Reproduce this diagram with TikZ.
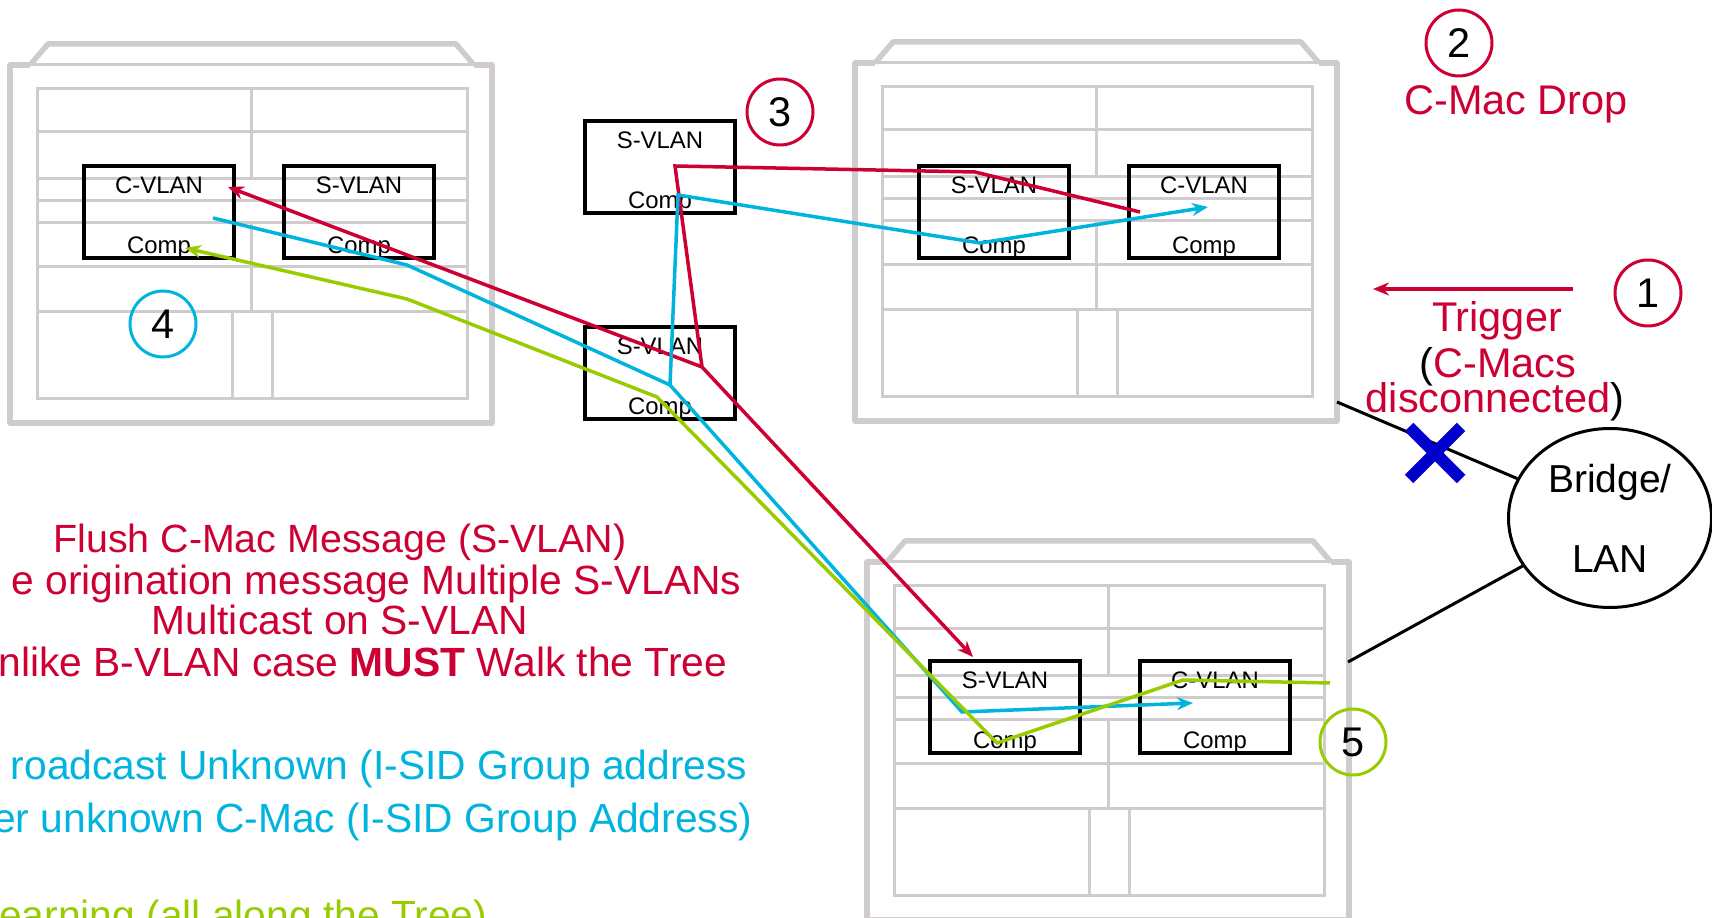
\documentclass[tikz,border=0pt]{standalone}
\usepackage{fontspec}
\setmainfont{Liberation Sans}
\usetikzlibrary{arrows.meta,shapes.geometric}
\definecolor{flush}{RGB}{204,0,51}
\definecolor{bcast}{RGB}{0,180,222}
\definecolor{learn}{RGB}{153,204,0}
\definecolor{frame}{RGB}{208,204,206}
\definecolor{cross}{RGB}{0,0,204}
\newcommand{\cmp}[1]{\rule{0pt}{7.8pt}#1\\Comp}

\begin{document}
\begin{tikzpicture}[x=0.1mm,y=-0.1mm,
    >={Stealth[length=1.6mm,width=1.3mm]},
    shelf/.style={draw=frame,line width=0.3mm},
    case/.style={draw=frame,line width=0.55mm,line join=round},
    comp/.style={draw,line width=0.4mm,minimum width=15mm,minimum height=9mm,inner sep=0pt,align=center,
      font=\fontsize{6.8}{17}\selectfont},
    num/.style={draw,circle,line width=0.3mm,minimum size=6.6mm,inner sep=0pt,font=\fontsize{11.8}{12}\selectfont},
    flow/.style={line width=0.35mm},
    txt/.style={inner sep=0pt,font=\fontsize{11.6}{12}\selectfont},
    side/.style={inner sep=0pt,font=\fontsize{11.8}{12}\selectfont}]
  \clip (0,0) rectangle (1712,918);

  \foreach \px/\py in {10/65,855/63,867/562}{
    \begin{scope}[shift={(\px,\py)}]
      \draw[case] (20,0) -- (0,0) -- (0,358) -- (482,358) -- (482,0) -- (464,0);
      \draw[case] (20,0) -- (38,-21) -- (446,-21) -- (464,0);
      \draw[shelf] (20,0) -- (464,0);
      \draw[shelf] (27,24) rectangle (457,334);
      \foreach \hy in {67,114,136,158,202,247} \draw[shelf] (27,\hy) -- (457,\hy);
      \draw[shelf] (241,24) -- (241,114) (241,158) -- (241,247) (222,247) -- (222,334) (262,247) -- (262,334);
    \end{scope}}

  \node[comp] (C1) at (159,212) {\cmp{C-VLAN}};
  \node[comp] (S1) at (359,212) {\cmp{S-VLAN}};
  \node[comp] (S2) at (660,167) {\cmp{S-VLAN}};
  \node[comp] (S3) at (660,373) {\cmp{S-VLAN}};
  \node[comp] (S4) at (994,212) {\cmp{S-VLAN}};
  \node[comp] (C4) at (1204,212) {\cmp{C-VLAN}};
  \node[comp] (S5) at (1005,707) {\cmp{S-VLAN}};
  \node[comp] (C5) at (1215,707) {\cmp{C-VLAN}};

  \node[draw,ellipse,line width=0.3mm,minimum width=20.3mm,minimum height=17.9mm,inner sep=0pt,align=center,font=\fontsize{11.1}{22.8}\selectfont] (B) at (1610,518) {Bridge/\\LAN};
  \coordinate (P1) at (1337,402);
  \coordinate (P2) at (1348,662);
  \draw[line width=0.3mm] (P1) -- (B);
  \draw[line width=0.3mm] (P2) -- (B);
  \coordinate (X) at (1435,453);
  \draw[cross,line width=1.2mm] (X) ++(-26,-26) -- ++(52,52) (X) ++(26,-26) -- ++(-52,52);

  \node[num,draw=flush] (N1) at (1648,293) {1};
  \node[num,draw=flush] (N2) at (1459,43) {2};
  \node[num,draw=flush] (N3) at (780,112) {3};
  \node[num,draw=bcast] (N4) at (163,324) {4};
  \node[num,draw=learn] (N5) at (1353,742) {5};

  \coordinate (A1) at (1573,289);
  \coordinate (A2) at (1373,289);
  \draw[flow,flush,->] (A1) -- (A2);
  \node[side,text=flush,anchor=base] (D) at (1516,115) {C-Mac Drop};
  \node[side,text=flush,anchor=base] (T) at (1497,332) {Trigger};
  \node[side,anchor=base] (T') at (1498,378) {(\textcolor{flush}{C-Macs}};
  \node[side,anchor=base] (T'') at (1495,413) {\textcolor{flush}{disconnected})};

  \coordinate (rA) at (228,187);
  \coordinate (rB) at (702,367);
  \coordinate (rC) at (675,166);
  \coordinate (rD) at (975,172);
  \coordinate (rE) at (1140,212);
  \coordinate (rF) at (973,657);
  \draw[flow,flush,<-] (rA) -- (rB) -- (rC) -- (rD) -- (rE);
  \draw[flow,flush,->] (rB) -- (rF);

  \coordinate (cA) at (213,218);
  \coordinate (cB) at (407,265);
  \coordinate (cC) at (670,385);
  \coordinate (cD) at (678,195);
  \coordinate (cE) at (980,243);
  \coordinate (cF) at (1208,207);
  \coordinate (cG) at (962,712);
  \coordinate (cH) at (1193,703);
  \draw[flow,bcast,->] (cA) -- (cB) -- (cC) -- (cD) -- (cE) -- (cF);
  \draw[flow,bcast,->] (cC) -- (cG) -- (cH);

  \coordinate (gA) at (185,248);
  \coordinate (gB) at (407,299);
  \coordinate (gC) at (657,397);
  \coordinate (gD) at (997,743);
  \coordinate (gE) at (1183,680);
  \coordinate (gF) at (1330,683);
  \draw[flow,learn,<-] (gA) -- (gB) -- (gC) -- (gD) -- (gE) -- (gF);

  \node[txt,text=flush,anchor=base,font=\fontsize{11.2}{12}\selectfont] (L1) at (340,553) {Flush C-Mac Message (S-VLAN)};
  \node[txt,text=flush,anchor=base east] (L2) at (742,595) {e origination message Multiple S-VLANs};
  \node[txt,text=flush,anchor=base] (L3) at (340,635) {Multicast on S-VLAN};
  \node[txt,text=flush,anchor=base east] (L4) at (728,677) {nlike B-VLAN case \textbf{MUST} Walk the Tree};
  \node[txt,text=bcast,anchor=base east] (L5) at (748,780) {roadcast Unknown (I-SID Group address};
  \node[txt,text=bcast,anchor=base east] (L6) at (753,833) {er unknown C-Mac (I-SID Group Address)};
  \node[txt,text=learn,anchor=base east] (L7) at (488,930) {earning (all along the Tree)};
\end{tikzpicture}
\end{document}
